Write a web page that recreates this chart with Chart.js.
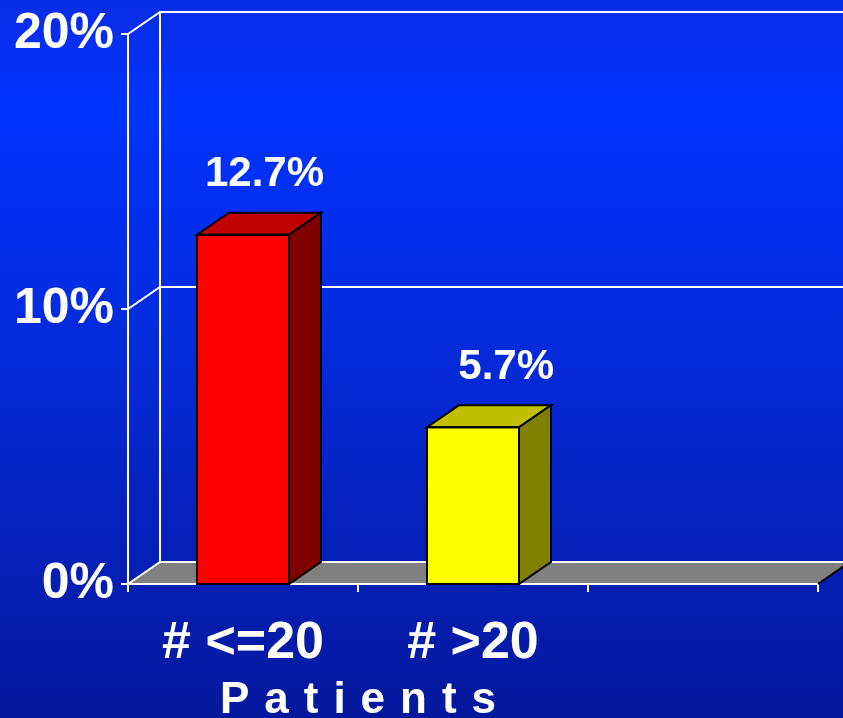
<!DOCTYPE html>
<html>
<head>
<meta charset="utf-8">
<script src="https://cdn.jsdelivr.net/npm/chart.js@4"></script>
<style>
  html, body { margin: 0; padding: 0; background: #0530f0; }
  #wrap { width: 843px; height: 718px; }
</style>
</head>
<body>
<div id="wrap"><canvas id="chart"></canvas></div>
<script>
const categories = ["# <=20", "# >20", ""];
const values = [12.7, 5.7, null];
const valueLabels = ["12.7%", "5.7%", ""];
const yTicks = [0, 10, 20];
const axisTitle = "Patients";

const frontColors = ["#ff0000", "#ffff00"];
const topColors = ["#c00000", "#c0c000"];
const sideColors = ["#800000", "#808000"];

const DX = 32, DY = 22;

/* =========================
   BACKGROUND + 3D FRAME
========================= */
const backdrop = {
  id: "backdrop",
  beforeDraw(chart) {
    const { ctx, width, height } = chart;
    const g = ctx.createLinearGradient(0, 0, 0, height);
    g.addColorStop(0, "#0a2ce6");
    g.addColorStop(0.15, "#0033ff");
    g.addColorStop(0.5, "#052ad8");
    g.addColorStop(1, "#06189c");
    ctx.save();
    ctx.fillStyle = g;
    ctx.fillRect(0, 0, width, height);
    ctx.restore();
  },
  beforeDatasetsDraw(chart) {
    const { ctx, chartArea, scales, width } = chart;
    const y = scales.y;
    const L = chartArea.left, R = chartArea.right, B = chartArea.bottom;

    ctx.save();
    // floor
    ctx.fillStyle = "#808080";
    ctx.beginPath();
    ctx.moveTo(L, B);
    ctx.lineTo(L + DX, B - DY);
    ctx.lineTo(R + DX, B - DY);
    ctx.lineTo(R, B);
    ctx.closePath();
    ctx.fill();

    ctx.strokeStyle = "#ffffff";
    ctx.lineWidth = 2;

    // back grid lines + diagonals
    yTicks.forEach(v => {
      const py = y.getPixelForValue(v);
      ctx.beginPath();
      ctx.moveTo(L - 7, py);
      ctx.lineTo(L, py);
      ctx.lineTo(L + DX, py - DY);
      ctx.lineTo(width + 5, py - DY);
      ctx.stroke();
    });

    // walls
    ctx.beginPath();
    ctx.moveTo(L, y.getPixelForValue(20));
    ctx.lineTo(L, B);
    ctx.moveTo(L + DX, y.getPixelForValue(20) - DY);
    ctx.lineTo(L + DX, B - DY);
    ctx.stroke();

    // front floor edge + ticks
    ctx.beginPath();
    ctx.moveTo(L, B);
    ctx.lineTo(R, B);
    const n = categories.length;
    for (let i = 0; i <= n; i++) {
      const px = L + (R - L) * i / n;
      ctx.moveTo(px, B);
      ctx.lineTo(px, B + 8);
    }
    ctx.stroke();

    // right floor edge
    ctx.strokeStyle = "#000000";
    ctx.beginPath();
    ctx.moveTo(R, B);
    ctx.lineTo(R + DX, B - DY);
    ctx.stroke();
    ctx.restore();
  },
  afterDatasetsDraw(chart) {
    const { ctx, scales } = chart;
    const meta = chart.getDatasetMeta(0);
    ctx.save();
    ctx.lineJoin = "miter";
    ctx.lineWidth = 2;
    ctx.strokeStyle = "#000000";
    meta.data.forEach((bar, i) => {
      if (values[i] == null) return;
      const { x, y, base, width } = bar.getProps(["x", "y", "base", "width"], true);
      const x1 = x - width / 2, x2 = x + width / 2;

      // top face
      ctx.fillStyle = topColors[i];
      ctx.beginPath();
      ctx.moveTo(x1, y);
      ctx.lineTo(x1 + DX, y - DY);
      ctx.lineTo(x2 + DX, y - DY);
      ctx.lineTo(x2, y);
      ctx.closePath();
      ctx.fill();
      ctx.stroke();

      // side face
      ctx.fillStyle = sideColors[i];
      ctx.beginPath();
      ctx.moveTo(x2, y);
      ctx.lineTo(x2 + DX, y - DY);
      ctx.lineTo(x2 + DX, base - DY);
      ctx.lineTo(x2, base);
      ctx.closePath();
      ctx.fill();
      ctx.stroke();

      // front outline
      ctx.strokeRect(x1, y, width, base - y);

      // value label, right aligned with the back edge
      ctx.fillStyle = "#ffffff";
      ctx.font = "bold 42px 'Liberation Sans', Arial, sans-serif";
      ctx.textAlign = "right";
      ctx.textBaseline = "middle";
      ctx.fillText(valueLabels[i], x2 + DX + 3, y - DY - 38);
    });

    // axis title, letter spaced, centred on first category boundary
    const xs = scales.x;
    const cx = (xs.getPixelForValue(0) + xs.getPixelForValue(1)) / 2;
    ctx.font = "bold 44px 'Liberation Sans', Arial, sans-serif";
    ctx.letterSpacing = "15px";
    const w = ctx.measureText(axisTitle).width - 15;
    ctx.textAlign = "left";
    ctx.textBaseline = "alphabetic";
    ctx.fillStyle = "#ffffff";
    ctx.fillText(axisTitle, cx - w / 2, 713);
    ctx.restore();
  }
};

const ctx = document.getElementById("chart");

new Chart(ctx, {
  type: "bar",
  data: {
    labels: categories,
    datasets: [{
      data: values,
      backgroundColor: frontColors,
      borderWidth: 0,
      categoryPercentage: 1,
      barPercentage: 0.4
    }]
  },
  options: {
    responsive: true,
    maintainAspectRatio: false,
    animation: false,
    layout: { padding: { top: 34, right: 25, left: 0, bottom: 0 } },
    scales: {
      x: {
        grid: { display: false, drawTicks: false },
        border: { display: false },
        ticks: {
          color: "#ffffff",
          padding: 28,
          maxRotation: 0,
          autoSkip: false,
          font: { family: "'Liberation Sans', Arial, sans-serif", size: 52, weight: "bold" }
        },
        afterFit(scale) {
          scale.height = 134;
          scale.paddingLeft = 0;
          scale.paddingRight = 0;
        }
      },
      y: {
        min: 0,
        max: 20,
        grid: { display: false, drawTicks: false },
        border: { display: false },
        ticks: {
          stepSize: 10,
          color: "#ffffff",
          padding: 14,
          callback: v => v + "%",
          font: { family: "'Liberation Sans', Arial, sans-serif", size: 50, weight: "bold" }
        },
        afterFit(scale) {
          scale.width = 128;
          scale.paddingTop = 0;
          scale.paddingBottom = 0;
        }
      }
    },
    plugins: {
      legend: { display: false },
      tooltip: { enabled: false }
    }
  },
  plugins: [backdrop]
});
</script>
</body>
</html>
